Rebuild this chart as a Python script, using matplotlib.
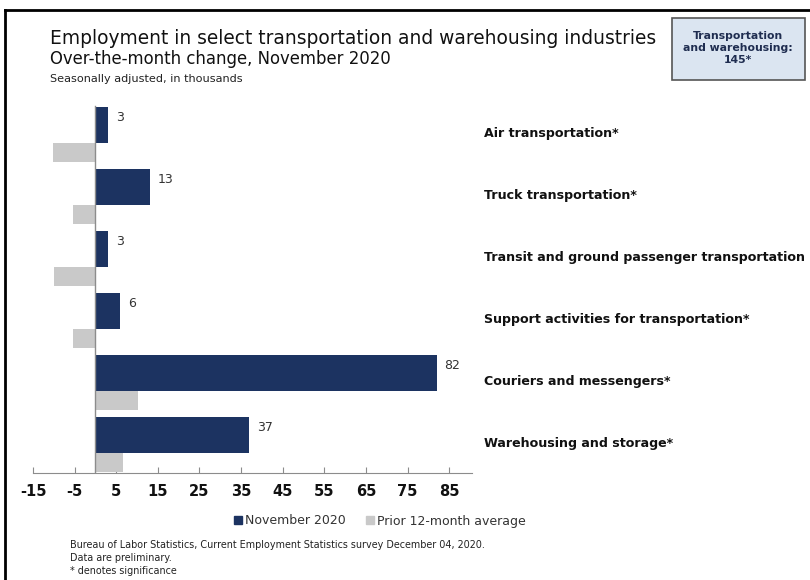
import matplotlib
matplotlib.use("Agg")
import matplotlib.pyplot as plt
from matplotlib.patches import Rectangle, Patch
from matplotlib.lines import Line2D
import numpy as np

categories = ["Air transportation*", "Truck transportation*",
              "Transit and ground passenger transportation",
              "Support activities for transportation*",
              "Couriers and messengers*", "Warehousing and storage*"]
nov_2020 = [3, 13, 3, 6, 82, 37]
prior_avg = [-10.2, -5.4, -10.0, -5.4, 10.2, 6.6]
xticks = [-15, -5, 5, 15, 25, 35, 45, 55, 65, 75, 85]

NAVY = "#1c3361"
GRAY = "#c9c9c9"

plt.rcParams["font.family"] = ["DejaVu Sans"]
W, H = 810, 580
fig = plt.figure(figsize=(W / 100, H / 100), dpi=100)
fig.patch.set_facecolor("white")

def fx(px):
    return px / W

def fy(py):
    return 1 - py / H

ax_left, ax_right, ax_top, ax_bot = 33, 472, 100, 473
ax = fig.add_axes([fx(ax_left), fy(ax_bot), fx(ax_right - ax_left), (ax_bot - ax_top) / H])
pitch = 62.0
y0 = 134.0
ax.set_ylim((ax_bot - y0) / pitch, (ax_top - y0) / pitch)
ax.set_xlim(-15, 90.5)

ypos = np.arange(len(categories))
ax.barh(ypos + 0.30, prior_avg, height=0.30, color=GRAY, zorder=2)
ax.barh(ypos - 0.145, nov_2020, height=0.58, color=NAVY, zorder=3)
ax.plot([0, 0], [(ax_bot - y0) / pitch, (106 - y0) / pitch], color="#8c8c8c", lw=1.0, zorder=4)

for i, v in enumerate(nov_2020):
    ax.text(v + 1.9, i - 0.27, str(v), fontsize=9, color="#333333", va="center", ha="left")

for i, c in enumerate(categories):
    fig.text(fx(484), fy(y0 + pitch * i), c, fontsize=9.1, fontweight="bold",
             color="#111111", va="center", ha="left")

for s in ["top", "right", "left"]:
    ax.spines[s].set_visible(False)
ax.spines["bottom"].set_color("#8c8c8c")
ax.set_yticks([])
ax.set_xticks(xticks)
ax.set_xticklabels([str(t) for t in xticks], fontweight="bold", fontsize=10.5, color="#111111")
ax.tick_params(axis="x", direction="in", length=4, color="#8c8c8c", pad=8)

# Titles
fig.text(fx(50), fy(39), "Employment in select transportation and warehousing industries",
         fontsize=13.45, color="#111111", va="center", ha="left")
fig.text(fx(50), fy(59), "Over-the-month change, November 2020",
         fontsize=11.9, color="#111111", va="center", ha="left")
fig.text(fx(50), fy(79), "Seasonally adjusted, in thousands",
         fontsize=8.1, color="#222222", va="center", ha="left")

# Summary box
fig.patches.append(Rectangle((fx(672), fy(80)), fx(805 - 672), (80 - 18) / H,
                             transform=fig.transFigure, facecolor="#dbe5f1",
                             edgecolor="#555555", lw=1.2))
fig.text(fx(738), fy(48), "Transportation\nand warehousing:\n145*", fontsize=7.8,
         fontweight="bold", color="#1f2d50", ha="center", va="center", linespacing=1.3)

# Legend
handles = [Patch(color=NAVY), Patch(color=GRAY)]
leg = fig.legend(handles, ["November 2020", "Prior 12-month average"],
                 loc="center", bbox_to_anchor=(fx(380), fy(521)), ncol=2, frameon=False,
                 fontsize=9, handlelength=0.6, handleheight=0.6, handletextpad=0.3,
                 columnspacing=1.6)
for t in leg.get_texts():
    t.set_color("#333333")

# Footnotes
foot = ["Bureau of Labor Statistics, Current Employment Statistics survey December 04, 2020.",
        "Data are preliminary.", "* denotes significance"]
for k, line in enumerate(foot):
    fig.text(fx(70), fy(545 + 13 * k), line, fontsize=6.95, color="#222222", va="center", ha="left")

# Frame lines (top and left)
fig.add_artist(Line2D([fx(5), fx(810)], [fy(10), fy(10)], transform=fig.transFigure, color="black", lw=2))
fig.add_artist(Line2D([fx(5), fx(5)], [fy(10), fy(580)], transform=fig.transFigure, color="black", lw=2))

fig.savefig("out.png", dpi=100, facecolor="white")
